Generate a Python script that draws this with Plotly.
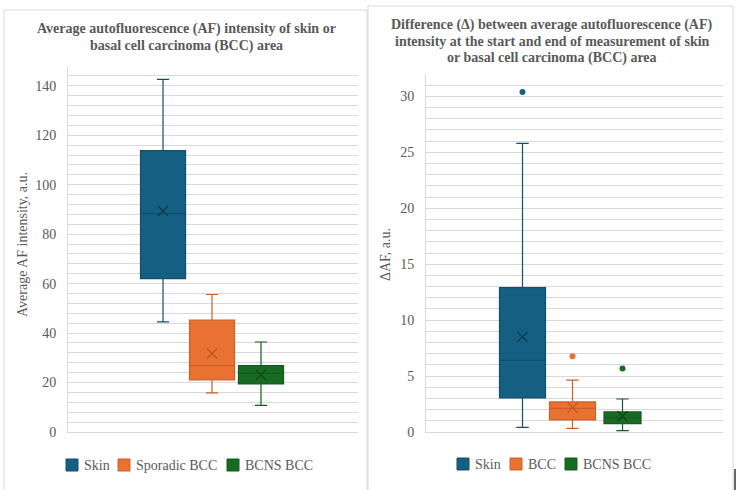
import plotly.graph_objects as go

# ---------------- data ----------------
af_categories = ["Skin", "Sporadic BCC", "BCNS BCC"]
af_lower = [44.5, 15.8, 10.8]
af_q1 = [62.0, 21.1, 19.4]
af_median = [88.3, 26.9, 23.7]
af_q3 = [113.8, 45.2, 26.8]
af_upper = [142.6, 55.6, 36.4]
af_mean = [89.4, 31.7, 23.1]

daf_categories = ["Skin", "BCC", "BCNS BCC"]
daf_lower = [0.42, 0.33, 0.12]
daf_q1 = [3.05, 1.08, 0.75]
daf_median = [6.4, 2.12, 1.29]
daf_q3 = [12.9, 2.69, 1.79]
daf_upper = [25.8, 4.63, 2.95]
daf_mean = [8.5, 2.18, 1.41]
daf_outliers = [[30.4], [6.78], [5.67]]

af_ticks = [0, 20, 40, 60, 80, 100, 120, 140]
daf_ticks = [0, 5, 10, 15, 20, 25, 30]

# ---------------- styles ----------------
W, H = 741, 490
FILL = ["#156082", "#E97132", "#196B24"]
EDGE = ["#124f6b", "#c9602a", "#155a1e"]
MEANC = ["#0c3a50", "#b5541f", "#0f4516"]
GRID = "#d9d9d9"
TXT = "#595959"
FONT = "Liberation Serif"
AF_WIDTHS = [0.92, 0.92, 0.92]
DAF_WIDTHS = [0.92, 0.92, 0.74]
# legend layout (pixel positions of the key squares)
AF_KEY_X = [66, 118, 227]
AF_KEY_Y = 465
DAF_KEY_X = [457, 510, 565]
DAF_KEY_Y = 464


def px(x):
    return x / W


def py(y):
    return 1 - y / H


fig = go.Figure()


def add_panel(cats, lower, q1, med, q3, upper, mean, outliers, widths,
              xa, ya):
    for i, c in enumerate(cats):
        fig.add_trace(go.Box(
            x=[c], q1=[q1[i]], median=[med[i]], q3=[q3[i]],
            lowerfence=[lower[i]], upperfence=[upper[i]],
            name=c, fillcolor=FILL[i], width=widths[i],
            line=dict(color=EDGE[i], width=1.2),
            whiskerwidth=0.27 * 0.92 / widths[i], boxpoints=False,
            xaxis=xa, yaxis=ya, showlegend=False, hoverinfo="skip",
        ))
        fig.add_trace(go.Scatter(
            x=[c], y=[mean[i]], mode="markers",
            marker=dict(symbol="x-thin", size=10,
                        line=dict(width=1.3, color=MEANC[i])),
            xaxis=xa, yaxis=ya, showlegend=False, hoverinfo="skip",
        ))
        if outliers is not None and outliers[i]:
            fig.add_trace(go.Scatter(
                x=[c] * len(outliers[i]), y=outliers[i], mode="markers",
                marker=dict(symbol="circle", size=6, color=FILL[i]),
                xaxis=xa, yaxis=ya, showlegend=False, hoverinfo="skip",
            ))


add_panel(af_categories, af_lower, af_q1, af_median, af_q3, af_upper,
          af_mean, None, AF_WIDTHS, "x", "y")
add_panel(daf_categories, daf_lower, daf_q1, daf_median, daf_q3, daf_upper,
          daf_mean, daf_outliers, DAF_WIDTHS, "x2", "y2")

common_x = dict(type="category", showticklabels=False, showgrid=False,
                zeroline=False, showline=True, linecolor=GRID, linewidth=1,
                ticks="", fixedrange=True)
common_y = dict(showgrid=True, gridcolor=GRID, gridwidth=1, zeroline=False,
                showline=True, linecolor=GRID, linewidth=1, ticks="",
                ticklabelstandoff=8, automargin=False,
                tickfont=dict(family=FONT, size=14, color=TXT))

fig.update_layout(
    width=W, height=H,
    margin=dict(l=0, r=0, t=0, b=0, autoexpand=False),
    paper_bgcolor="white", plot_bgcolor="white",
    boxmode="overlay", boxgap=0.08, boxgroupgap=0,
    showlegend=False,
    font=dict(family=FONT, color=TXT),
    xaxis=dict(domain=[px(68), px(358)], anchor="y",
               categoryorder="array", categoryarray=af_categories,
               range=[-1.94, 3.98], **common_x),
    yaxis=dict(domain=[py(432), py(66)], anchor="x", range=[0, 148],
               tickvals=af_ticks,
               minor=dict(dtick=4, tick0=0, showgrid=True, gridcolor=GRID,
                          gridwidth=1, ticks=""),
               **common_y),
    xaxis2=dict(domain=[px(426), px(723)], anchor="y2",
                categoryorder="array", categoryarray=daf_categories,
                range=[-1.93, 4.01], **common_x),
    yaxis2=dict(domain=[py(432), py(74)], anchor="x2", range=[0, 32],
                tickvals=daf_ticks,
                minor=dict(dtick=1, tick0=0, showgrid=True, gridcolor=GRID,
                           gridwidth=1, ticks=""),
                **common_y),
)

# panel borders
fig.add_shape(type="rect", xref="paper", yref="paper",
              x0=px(4), x1=px(367), y0=py(495), y1=py(10),
              line=dict(color=GRID, width=1), layer="below")
fig.add_shape(type="rect", xref="paper", yref="paper",
              x0=px(368), x1=px(733), y0=py(495), y1=py(6),
              line=dict(color=GRID, width=1), layer="below")
fig.add_shape(type="line", xref="paper", yref="paper",
              x0=px(735), x1=px(735), y0=py(469), y1=py(490),
              line=dict(color="#333333", width=1.5))

# legends (key squares + labels)
def add_legend(labels, key_x, key_y):
    for i, lab in enumerate(labels):
        x0 = key_x[i]
        fig.add_shape(type="rect", xref="paper", yref="paper",
                      x0=px(x0), x1=px(x0 + 12),
                      y0=py(key_y + 6), y1=py(key_y - 6),
                      fillcolor=FILL[i], line=dict(color=EDGE[i], width=1))
        fig.add_annotation(text=lab, xref="paper", yref="paper",
                           x=px(x0 + 16), y=py(key_y), showarrow=False,
                           xanchor="left", yanchor="middle",
                           font=dict(family=FONT, size=14, color=TXT))


add_legend(af_categories, AF_KEY_X, AF_KEY_Y)
add_legend(daf_categories, DAF_KEY_X, DAF_KEY_Y)

# titles
title_font = dict(family=FONT, size=14, color=TXT)
left_title = ["<b>Average autofluorescence (AF) intensity of skin or</b>",
              "<b>basal cell carcinoma (BCC) area</b>"]
for i, t in enumerate(left_title):
    fig.add_annotation(text=t, xref="paper", yref="paper",
                       x=px(186), y=py(29 + 16.5 * i), showarrow=False,
                       xanchor="center", yanchor="middle", font=title_font)
right_title = ["<b>Difference (Δ) between average autofluorescence (AF)</b>",
               "<b>intensity at the start and end of measurement of skin</b>",
               "<b>or basal cell carcinoma (BCC) area</b>"]
for i, t in enumerate(right_title):
    fig.add_annotation(text=t, xref="paper", yref="paper",
                       x=px(552), y=py(25 + 16.5 * i), showarrow=False,
                       xanchor="center", yanchor="middle", font=title_font)

# axis titles
fig.add_annotation(text="Average AF intensity, a.u.", xref="paper",
                   yref="paper", x=px(22), y=py(245), showarrow=False,
                   textangle=-90, xanchor="center", yanchor="middle",
                   font=dict(family=FONT, size=14, color=TXT))
fig.add_annotation(text="ΔAF, a.u.", xref="paper",
                   yref="paper", x=px(385), y=py(255), showarrow=False,
                   textangle=-90, xanchor="center", yanchor="middle",
                   font=dict(family=FONT, size=14, color=TXT))

fig.write_html(
    "out.html",
    config={"displayModeBar": False},
    post_script="document.body.style.margin='0';"
                "document.body.style.overflow='hidden';",
)
